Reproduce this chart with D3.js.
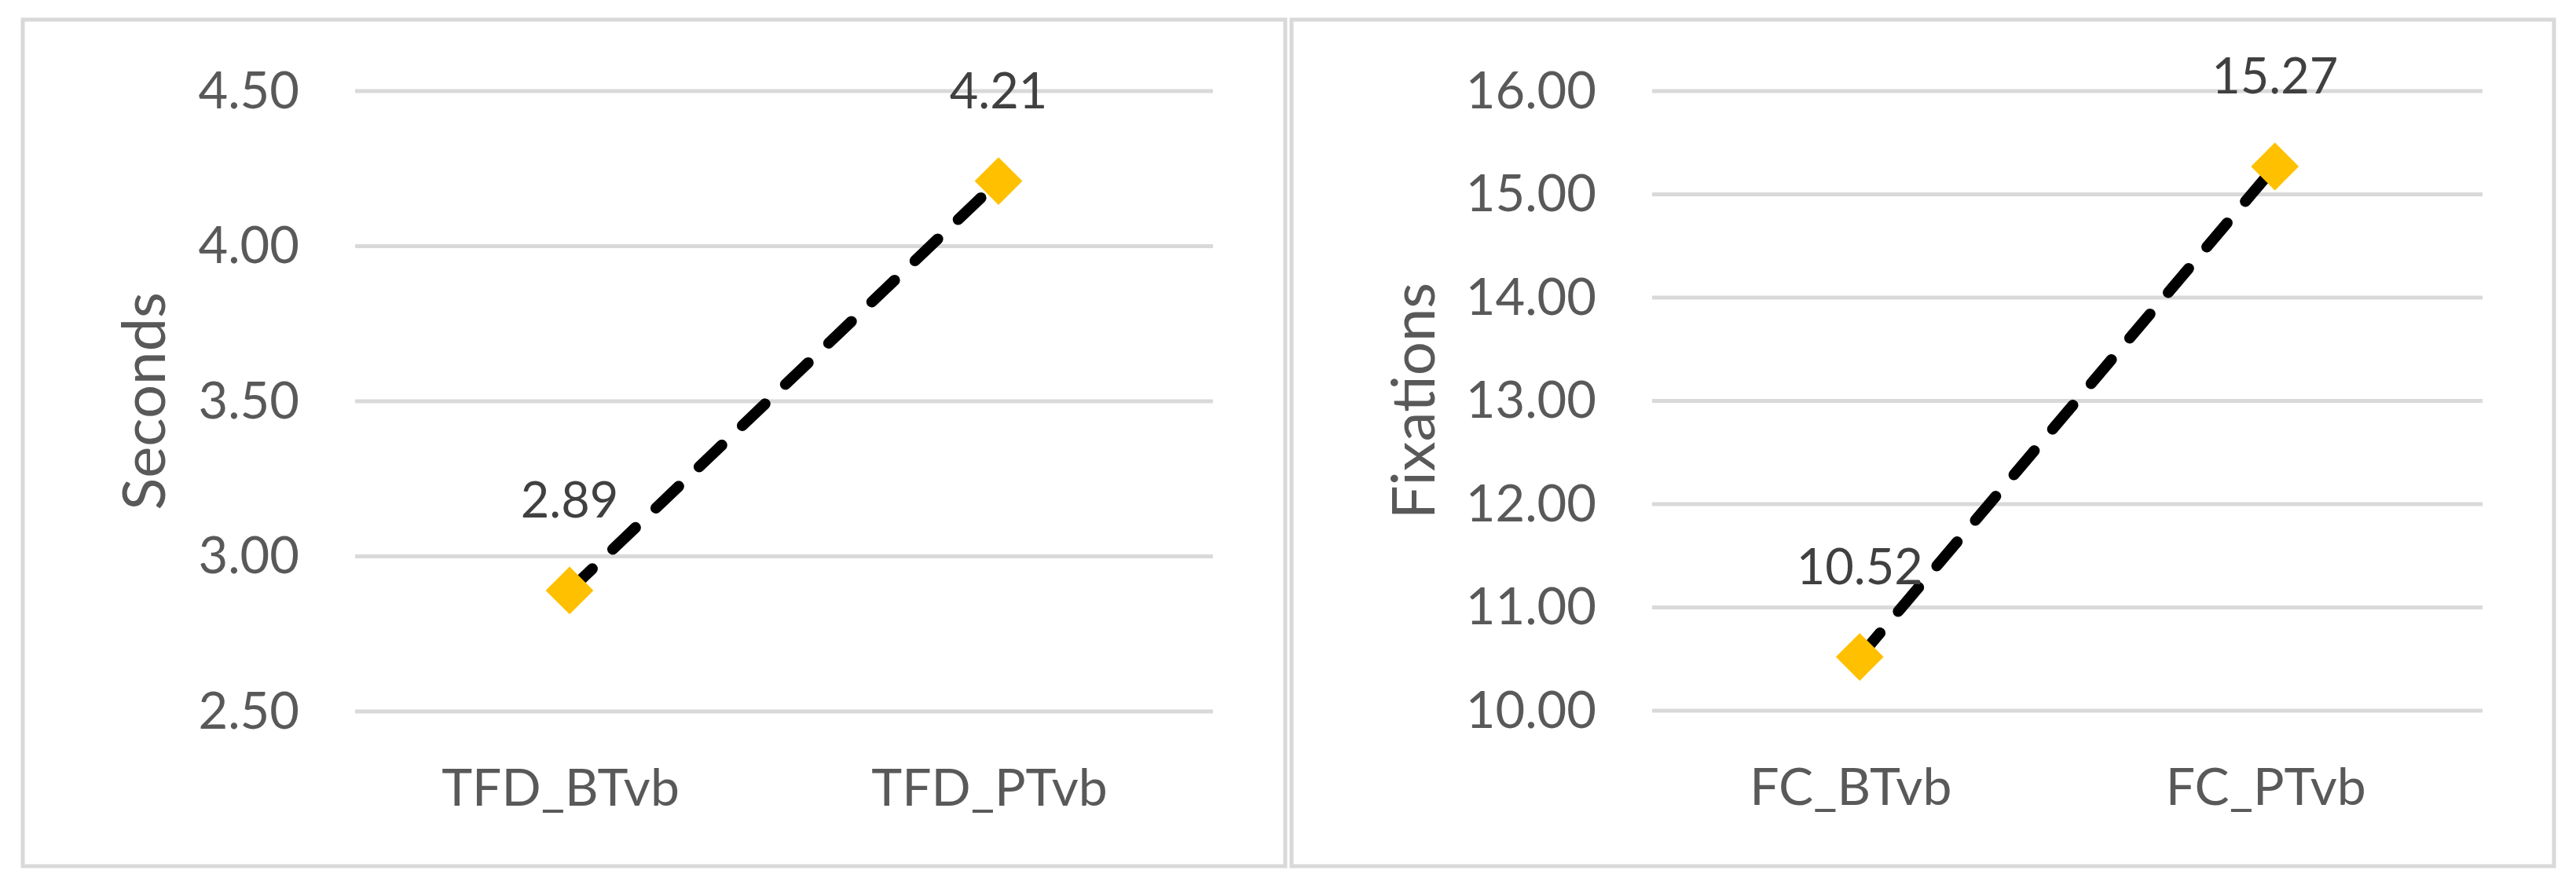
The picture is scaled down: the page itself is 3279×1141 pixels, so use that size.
<!DOCTYPE html>
<html>
<head>
<meta charset="utf-8">
<script src="https://cdn.jsdelivr.net/npm/d3@7"></script>
<style>
  html, body { margin: 0; padding: 0; background: #ffffff; }
  svg { display: block; }
</style>
</head>
<body>
<script>
// ---- data ----
const leftCategories = ["TFD_BTvb", "TFD_PTvb"];
const leftValues = [2.89, 4.21];
const leftTicks = [2.5, 3.0, 3.5, 4.0, 4.5];
const leftTitle = "Seconds";

const rightCategories = ["FC_BTvb", "FC_PTvb"];
const rightValues = [10.52, 15.27];
const rightTicks = [10, 11, 12, 13, 14, 15, 16];
const rightTitle = "Fixations";

// ---- drawing ----
const W = 3279, H = 1141;
const svg = d3.select("body").append("svg").attr("width", W).attr("height", H);
svg.append("rect").attr("width", W).attr("height", H).attr("fill", "#fff");

const FONT = "Lato, 'Open Sans', sans-serif";
const GRID = "#d9d9d9";

function panel(cfg) {
  const g = svg.append("g");
  // chart border
  g.append("rect")
    .attr("x", cfg.box[0]).attr("y", cfg.box[1])
    .attr("width", cfg.box[2] - cfg.box[0]).attr("height", cfg.box[3] - cfg.box[1])
    .attr("fill", "#fff").attr("stroke", GRID).attr("stroke-width", 5);

  const x = d3.scalePoint().domain(cfg.categories).range([cfg.plot[0], cfg.plot[1]]).padding(0.5);
  const y = d3.scaleLinear().domain([cfg.ticks[0], cfg.ticks[cfg.ticks.length - 1]]).range([cfg.plot[3], cfg.plot[2]]);

  // gridlines
  g.append("g").selectAll("line").data(cfg.ticks).join("line")
    .attr("x1", cfg.plot[0]).attr("x2", cfg.plot[1])
    .attr("y1", d => y(d)).attr("y2", d => y(d))
    .attr("stroke", GRID).attr("stroke-width", 5);

  // y axis labels
  const ya = g.append("g").attr("transform", `translate(${cfg.plot[0]},0)`)
    .call(d3.axisLeft(y).tickValues(cfg.ticks).tickFormat(d3.format(".2f")).tickSize(0).tickPadding(71));
  ya.select(".domain").remove();
  ya.selectAll("text").attr("font-family", FONT).attr("font-size", 65).attr("fill", "#595959").attr("dy", "0.33em");

  // x axis labels
  const xa = g.append("g").attr("transform", `translate(0,${cfg.plot[3]})`)
    .call(d3.axisBottom(x).tickSize(0));
  xa.select(".domain").remove();
  xa.selectAll("text").attr("font-family", FONT).attr("font-size", 66).attr("fill", "#595959")
    .attr("dy", null).attr("y", 120).attr("dx", -12);

  // axis title
  g.append("text")
    .attr("transform", `translate(${cfg.titleX},${(cfg.plot[2] + cfg.plot[3]) / 2}) rotate(-90)`)
    .attr("text-anchor", "middle").attr("dominant-baseline", "central")
    .attr("font-family", FONT).attr("font-size", 76).attr("fill", "#595959")
    .text(cfg.title);

  const pts = cfg.categories.map((c, i) => ({ c, v: cfg.values[i] }));

  // dashed line
  g.append("path").datum(pts)
    .attr("d", d3.line().x(d => x(d.c)).y(d => y(d.v)))
    .attr("fill", "none").attr("stroke", "#000").attr("stroke-width", 14)
    .attr("stroke-linecap", "round").attr("stroke-dasharray", "40,36");

  // markers
  g.append("g").selectAll("path").data(pts).join("path")
    .attr("d", d3.symbol().type(d3.symbolSquare).size(43 * 43))
    .attr("transform", d => `translate(${x(d.c)},${y(d.v)}) rotate(45)`)
    .attr("fill", "#FFC000");

  // data labels
  g.append("g").selectAll("text").data(pts).join("text")
    .attr("x", d => x(d.c)).attr("y", d => y(d.v) - 93)
    .attr("text-anchor", "middle")
    .attr("font-family", FONT).attr("font-size", 63).attr("fill", "#404040")
    .text(d => d3.format(".2f")(d.v));
}

panel({
  box: [29, 25, 1636, 1103],
  plot: [452, 1544, 116, 906],
  categories: leftCategories, values: leftValues, ticks: leftTicks,
  title: leftTitle, titleX: 180
});

panel({
  box: [1644, 25, 3251, 1103],
  plot: [2103, 3160, 116, 905],
  categories: rightCategories, values: rightValues, ticks: rightTicks,
  title: rightTitle, titleX: 1796
});
</script>
</body>
</html>
